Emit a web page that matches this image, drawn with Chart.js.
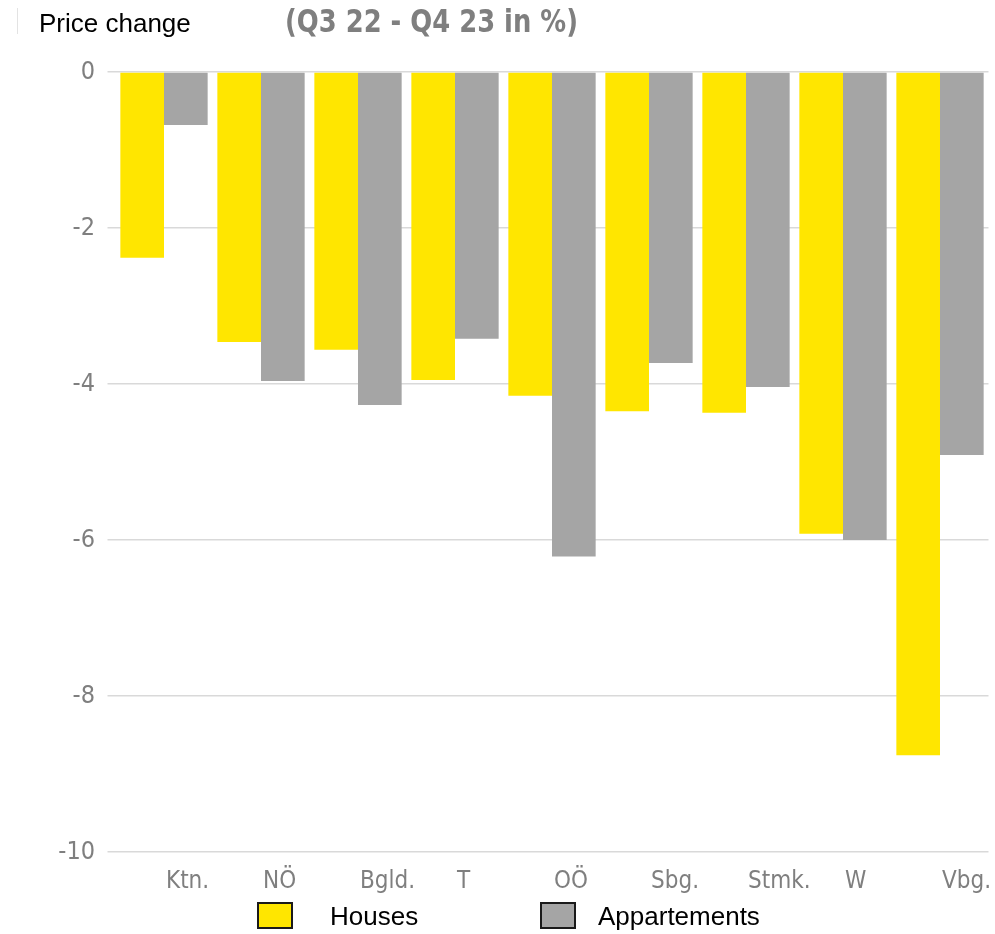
<!DOCTYPE html>
<html>
<head>
<meta charset="utf-8">
<script src="https://cdn.jsdelivr.net/npm/chart.js@4/dist/chart.umd.min.js"></script>
<style>
  html, body { margin: 0; padding: 0; background: #fff; }
  #wrap { width: 995px; height: 934px; position: relative; }
</style>
</head>
<body>
<div id="wrap"><canvas id="chart"></canvas></div>
<script>
const regions = ['Ktn.', 'NÖ', 'Bgld.', 'T', 'OÖ', 'Sbg.', 'Stmk.', 'W', 'Vbg.']
const houses = [-2.38, -3.46, -3.56, -3.95, -4.15, -4.35, -4.37, -5.92, -8.76]
const appartements = [-0.68, -3.96, -4.27, -3.42, -6.21, -3.73, -4.04, -6.0, -4.91]

const titleText = 'Price change'
const subtitleText = '(Q3 22 - Q4 23 in %)'

const narrow = '"Liberation Sans Narrow", "DejaVu Sans Condensed", sans-serif'
const YELLOW = '#ffe600'
const GREY = '#a5a5a5'

// title line and legend are painted by hand under the plot
const decorations = {
  id: 'decorations',
  afterDraw(chart) {
    const ctx = chart.ctx
    ctx.save()

    ctx.strokeStyle = '#e3e3e3'
    ctx.lineWidth = 1
    ctx.beginPath()
    ctx.moveTo(17.5, 8)
    ctx.lineTo(17.5, 34)
    ctx.stroke()

    ctx.textBaseline = 'middle'
    ctx.textAlign = 'left'
    ctx.fillStyle = '#000'
    ctx.font = '26px "Liberation Sans", Arial, sans-serif'
    ctx.fillText(titleText, 39, 25)

    ctx.fillStyle = '#7f7f7f'
    ctx.font = 'bold 32px ' + narrow
    ctx.fillText(subtitleText, 285, 24, 293)

    const items = [
      { label: 'Houses', color: YELLOW, x: 258, tx: 330 },
      { label: 'Appartements', color: GREY, x: 541, tx: 598 }
    ]
    ctx.font = '26px "Liberation Sans", Arial, sans-serif'
    items.forEach(item => {
      ctx.fillStyle = item.color
      ctx.fillRect(item.x, 903, 34, 25)
      ctx.strokeStyle = '#1a1a1a'
      ctx.lineWidth = 2
      ctx.strokeRect(item.x, 903, 34, 25)
      ctx.fillStyle = '#000'
      ctx.fillText(item.label, item.tx, 918)
    })

    ctx.restore()
  }
}

new Chart(document.getElementById('chart'), {
  type: 'bar',
  data: {
    labels: regions,
    datasets: [
      { label: 'Houses', data: houses, backgroundColor: YELLOW, borderWidth: 0 },
      { label: 'Appartements', data: appartements, backgroundColor: GREY, borderWidth: 0 }
    ]
  },
  options: {
    responsive: true,
    maintainAspectRatio: false,
    animation: false,
    layout: { padding: { top: 72, right: 6.5, left: 0, bottom: 0 } },
    datasets: { bar: { categoryPercentage: 0.9, barPercentage: 1.0 } },
    plugins: {
      legend: { display: false },
      tooltip: { enabled: false }
    },
    scales: {
      x: {
        grid: { display: false },
        border: { display: false },
        ticks: {
          align: 'start',
          labelOffset: 2,
          padding: 7,
          color: '#7f7f7f',
          font: { family: narrow, size: 24 }
        },
        afterFit(scale) {
          scale.height = 82
          // the last label may hang past the plot edge
          scale.paddingRight = 0
          scale.paddingLeft = 0
        }
      },
      y: {
        min: -10,
        max: 0,
        border: { display: false },
        grid: { color: '#d9d9d9', lineWidth: 1.5, tickLength: 8 },
        ticks: {
          stepSize: 2,
          padding: 12.5,
          color: '#7f7f7f',
          font: { family: narrow, size: 25 }
        },
        afterFit(scale) { scale.width = 115.5 }
      }
    }
  },
  plugins: [decorations]
})
</script>
</body>
</html>
